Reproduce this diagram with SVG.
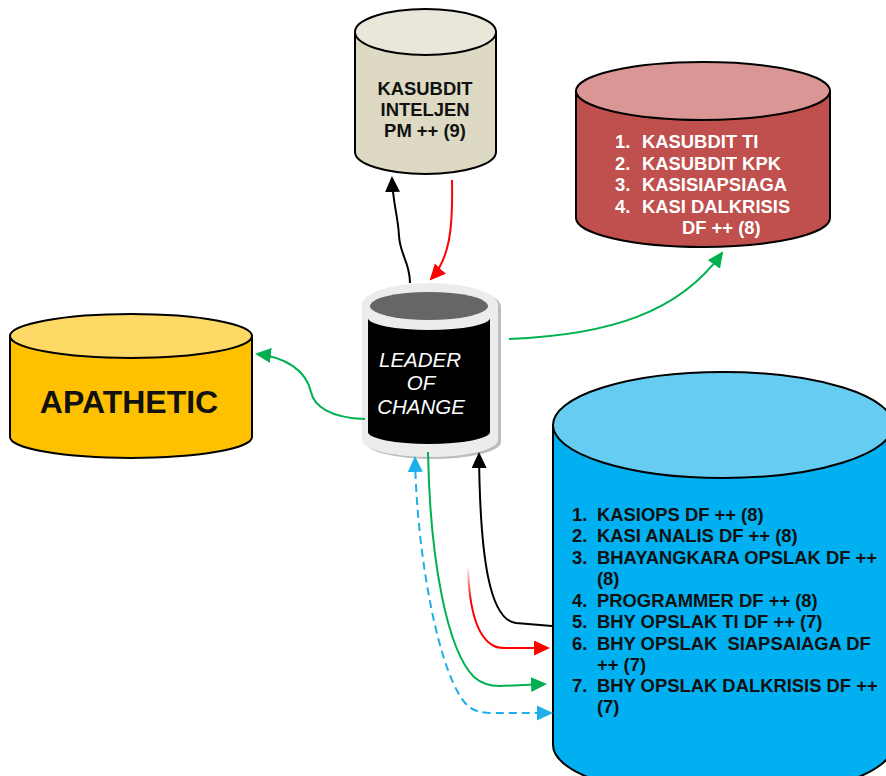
<svg xmlns="http://www.w3.org/2000/svg" width="886" height="776" viewBox="0 0 886 776">
<style>
.cyl{stroke:#000;stroke-width:2}
.t{font-family:"Liberation Sans",Arial,sans-serif;font-weight:bold;font-size:18.4px}
.c{fill:none;stroke-width:2}
</style>
<defs>
<marker id="aK" markerUnits="userSpaceOnUse" markerWidth="18" markerHeight="16" refX="14" refY="7.5" orient="auto-start-reverse"><path d="M0,0 L16,7.5 L0,15 z" fill="#000"/></marker>
<marker id="aR" markerUnits="userSpaceOnUse" markerWidth="18" markerHeight="16" refX="14" refY="7.5" orient="auto-start-reverse"><path d="M0,0 L16,7.5 L0,15 z" fill="#ff0000"/></marker>
<marker id="aG" markerUnits="userSpaceOnUse" markerWidth="18" markerHeight="16" refX="14" refY="7.5" orient="auto-start-reverse"><path d="M0,0 L16,7.5 L0,15 z" fill="#00b050"/></marker>
<marker id="aB" markerUnits="userSpaceOnUse" markerWidth="18" markerHeight="16" refX="14" refY="7.5" orient="auto-start-reverse"><path d="M0,0 L16,7.5 L0,15 z" fill="#1eaeea"/></marker>
<linearGradient id="redFade" gradientUnits="userSpaceOnUse" x1="0" y1="566" x2="0" y2="600"><stop offset="0" stop-color="#ff0000" stop-opacity="0"/><stop offset="1" stop-color="#ff0000" stop-opacity="1"/></linearGradient>
</defs>
<rect width="886" height="776" fill="#fff"/>

<g id="kasubdit-inteljen">
<path class="cyl" d="M355,32 L355,152 A70.5,22 0 0 0 496,152 L496,32 Z" fill="#ddd9c3"/>
<ellipse class="cyl" cx="425.5" cy="32" rx="70.5" ry="23" fill="#e9e6da"/>
<text class="t" x="425" y="95" text-anchor="middle" fill="#111">KASUBDIT</text>
<text class="t" x="425" y="116" text-anchor="middle" fill="#111">INTELJEN</text>
<text class="t" x="425" y="137" text-anchor="middle" fill="#111">PM ++ (9)</text>
</g>

<g id="kasubdit-ti">
<path class="cyl" d="M576,91 L576,218 A127,29 0 0 0 830,218 L830,91 Z" fill="#c0504d"/>
<ellipse class="cyl" cx="703" cy="91" rx="127" ry="29" fill="#d99694"/>
<g class="t" fill="#fff">
<text x="615" y="148">1.</text><text x="642" y="148">KASUBDIT TI</text>
<text x="615" y="169.5">2.</text><text x="642" y="169.5">KASUBDIT KPK</text>
<text x="615" y="191">3.</text><text x="642" y="191">KASISIAPSIAGA</text>
<text x="615" y="212.5">4.</text><text x="642" y="212.5">KASI DALKRISIS</text>
<text x="682" y="234">DF ++ (8)</text>
</g>
</g>

<g id="apathetic">
<path class="cyl" d="M10,336 L10,437 A121,21 0 0 0 252,437 L252,336 Z" fill="#ffc000"/>
<ellipse class="cyl" cx="131" cy="336" rx="121" ry="22" fill="#ffd966"/>
<text x="129" y="413" text-anchor="middle" font-family="Liberation Sans,Arial,sans-serif" font-weight="bold" font-size="32" fill="#111">APATHETIC</text>
</g>

<g id="leader-of-change">
<path d="M365,307 L365,442 A68,17 0 0 0 501,442 L501,307 A68,22 0 0 0 365,307 Z" fill="#bdbdbd"/>
<path d="M362,305 L362,440 A68,17 0 0 0 498,440 L498,305 A68,22 0 0 0 362,305 Z" fill="#ececec"/>
<ellipse cx="429" cy="306" rx="59" ry="14" fill="#666"/>
<path d="M368,318 A61,12 0 0 0 490,318 L490,432 A61,12 0 0 1 368,432 Z" fill="#000"/>
<g font-family="Liberation Sans,Arial,sans-serif" font-style="italic" font-size="20.5" fill="#fff" text-anchor="middle">
<text x="420" y="367">LEADER</text>
<text x="421" y="390">OF</text>
<text x="421" y="414">CHANGE</text>
</g>
</g>

<g id="kasiops">
<path class="cyl" d="M553,425 L553,745 A170,53 0 0 0 893,745 L893,425 Z" fill="#00b0f0"/>
<ellipse class="cyl" cx="723" cy="425" rx="170" ry="53" fill="#66ccf2"/>
<g class="t" fill="#111">
<text x="572" y="521">1.</text><text x="597" y="521">KASIOPS DF ++ (8)</text>
<text x="572" y="542">2.</text><text x="597" y="542">KASI ANALIS DF ++ (8)</text>
<text x="572" y="563.5">3.</text><text x="597" y="563.5">BHAYANGKARA OPSLAK DF ++</text>
<text x="597" y="585">(8)</text>
<text x="572" y="606.5">4.</text><text x="597" y="606.5">PROGRAMMER DF ++ (8)</text>
<text x="572" y="628">5.</text><text x="597" y="628">BHY OPSLAK TI DF ++ (7)</text>
<text x="572" y="649.5">6.</text><text x="597" y="649.5" xml:space="preserve">BHY OPSLAK  SIAPSAIAGA DF</text>
<text x="597" y="670.5">++ (7)</text>
<text x="572" y="692">7.</text><text x="597" y="692">BHY OPSLAK DALKRISIS DF ++</text>
<text x="597" y="713">(7)</text>
</g>
</g>

<g id="connectors">
<path class="c" stroke="#000" d="M410,283 C410,262 400,255 399,236 C398,215 393,205 392,178" marker-end="url(#aK)"/>
<path class="c" stroke="#ff0000" d="M452,180 C453,228 450,258 431,279" marker-end="url(#aR)"/>
<path class="c" stroke="#00b050" d="M509,339 C610,335 680,312 722,253" marker-end="url(#aG)"/>
<path class="c" stroke="#00b050" d="M365,419 C330,418 314,406 311,392 C306,370 285,357 257,354" marker-end="url(#aG)"/>
<path class="c" stroke="#1eaeea" stroke-dasharray="8,5" d="M415,458 C417,560 440,680 468,706 Q476,713 492,713 L551,713" marker-start="url(#aB)" marker-end="url(#aB)"/>
<path class="c" stroke="#00b050" d="M428,452 C430,560 447,650 474,677 Q484,686 500,686 L545,684" marker-end="url(#aG)"/>
<path class="c" stroke="url(#redFade)" d="M468,566 C469,610 478,638 494,646 Q498,648 506,648 L548,648" marker-end="url(#aR)"/>
<path class="c" stroke="#000" d="M552,626 L516,623 C490,620 480,560 479,454" marker-end="url(#aK)"/>
</g>
</svg>
